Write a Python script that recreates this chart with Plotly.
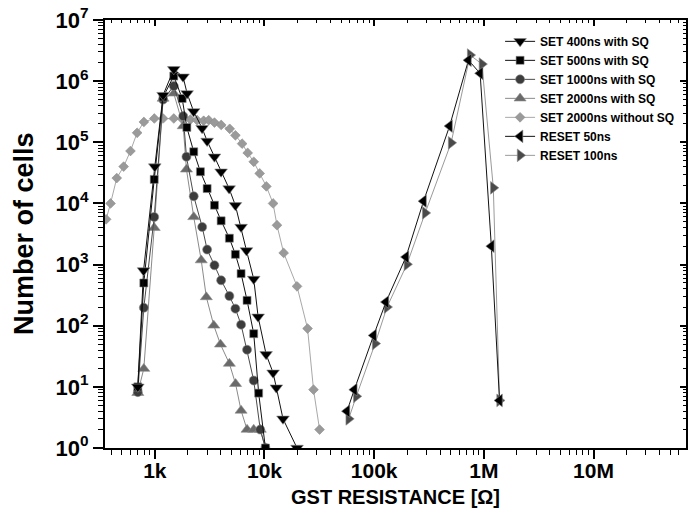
import plotly.graph_objects as go

# ---------------- data ----------------
set400_r = [700, 790, 1000, 1190, 1490, 1810, 1970, 2260, 2700, 3000, 3500, 4020, 4760, 5430, 6120, 6850, 7980, 8750, 10350, 11980, 12830, 14750, 19800]
set400_n = [10, 800, 4.0e4, 5.9e5, 1.56e6, 1.18e6, 6.3e5, 3.2e5, 1.7e5, 1.05e5, 5.8e4, 3.3e4, 1.75e4, 9.3e3, 4.1e3, 1.7e3, 580, 140, 34, 17, 9.7, 3, 1]

set500_r = [700, 794, 988, 1190, 1490, 1777, 1960, 2265, 2606, 3000, 3500, 4025, 4787, 5430, 6120, 6935, 7980, 8850, 10200]
set500_n = [10, 500, 2.47e4, 5.5e5, 1.21e6, 5.2e5, 1.75e5, 7.0e4, 3.3e4, 1.75e4, 9.35e3, 5.2e3, 2.7e3, 1.47e3, 711, 260, 74, 7.9, 1]

set1000_r = [700, 794, 988, 1190, 1490, 1816, 1944, 2265, 2705, 3000, 3500, 4025, 4787, 5430, 6120, 6935, 7980, 9150, 10200]
set1000_n = [8.2, 197, 6.0e3, 5.0e5, 8.3e5, 2.68e5, 5.8e4, 1.31e4, 4.12e3, 1.76e3, 973, 553, 306, 190, 104, 40.5, 12.7, 2, 1]

set2000_r = [700, 794, 988, 1190, 1490, 1816, 1944, 2265, 2650, 2950, 3450, 3970, 4787, 5450, 6120, 6935, 7980, 9150, 10200]
set2000_n = [8, 19.8, 4.0e3, 5.2e5, 6.3e5, 1.84e5, 3.6e4, 6.0e3, 1.18e3, 294, 101, 49.5, 24, 11.2, 4.1, 2, 2, 2, 1]

nosq_r = [360, 395, 450, 520, 600, 690, 795, 990, 1190, 1490, 1780, 2110, 2430, 2790, 3100, 3500, 4030, 4820, 5430, 6250, 7030, 7980, 9040, 10400, 11980, 13000, 14960, 19800, 24700, 28000, 31800]
nosq_n = [5.5e3, 1.0e4, 2.6e4, 4.0e4, 7.2e4, 1.43e5, 2.15e5, 2.45e5, 2.45e5, 2.45e5, 2.4e5, 2.35e5, 2.3e5, 2.25e5, 2.3e5, 2.1e5, 1.92e5, 1.66e5, 1.3e5, 9.5e4, 6.7e4, 4.8e4, 3.1e4, 1.9e4, 1.0e4, 4.4e3, 1.55e3, 440, 90, 9, 2]

reset50_r = [56500, 65900, 98900, 128000, 195000, 282000, 487000, 724000, 925000, 1.17e6, 1.39e6]
reset50_n = [4, 9, 69.5, 244, 1330, 1.09e4, 1.84e5, 2.2e6, 1.34e6, 2.0e3, 6]

reset100_r = [58600, 68700, 102000, 131000, 199000, 292000, 503000, 750000, 960000, 1.22e6, 1.39e6]
reset100_n = [3, 7, 51, 202, 1010, 7.0e3, 9.8e4, 2.67e6, 1.9e6, 1.8e4, 6]

x_tick_vals = [1e3, 1e4, 1e5, 1e6, 1e7]
x_tick_text = ["1k", "10k", "100k", "1M", "10M"]
y_tick_vals = [1, 10, 100, 1e3, 1e4, 1e5, 1e6, 1e7]
y_tick_text = ["10<sup>0</sup>", "10<sup>1</sup>", "10<sup>2</sup>", "10<sup>3</sup>",
               "10<sup>4</sup>", "10<sup>5</sup>", "10<sup>6</sup>", "10<sup>7</sup>"]

# ---------------- figure ----------------
FONT = "Arial, Liberation Sans, sans-serif"
X_RANGE = [2.546, 7.843]
Y_RANGE = [0, 7]

x_minor = [m * 10 ** e for e in range(2, 8) for m in range(2, 10)]
y_minor = [m * 10 ** e for e in range(0, 7) for m in range(2, 10)]

fig = go.Figure()

series = [
    # name, x, y, symbol, size, marker colour, line colour, legendrank
    ("SET 2000ns without SQ", nosq_r, nosq_n, "diamond", 7.5, "#9a9a9a", "#a8a8a8", 5),
    ("SET 2000ns with SQ", set2000_r, set2000_n, "triangle-up", 10.5, "#6a6a6a", "#8a8a8a", 4),
    ("SET 1000ns with SQ", set1000_r, set1000_n, "circle", 9, "#3c3c3c", "#4a4a4a", 3),
    ("SET 500ns with SQ", set500_r, set500_n, "square", 8, "#000000", "#111111", 2),
    ("SET 400ns with SQ", set400_r, set400_n, "triangle-down", 11, "#000000", "#111111", 1),
    ("RESET 100ns", reset100_r, reset100_n, "triangle-right", 11, "#4a4a4a", "#9a9a9a", 7),
    ("RESET 50ns", reset50_r, reset50_n, "triangle-left", 11, "#000000", "#111111", 6),
]

for name, xs, ys, sym, size, mcol, lcol, rank in series:
    fig.add_trace(go.Scatter(
        x=xs, y=ys, name=name, mode="lines+markers", legendrank=rank,
        marker=dict(symbol=sym, size=size, color=mcol, line=dict(width=0.6, color="#8c8c8c")),
        line=dict(color=lcol, width=1),
    ))

# invisible trace to activate the mirrored (top/right) axes
fig.add_trace(go.Scatter(x=[set400_r[0]], y=[set400_n[0]], xaxis="x2", yaxis="y2",
                         mode="markers", marker=dict(opacity=0), showlegend=False,
                         hoverinfo="skip"))

axis_common = dict(type="log", showgrid=False, zeroline=False, showline=True,
                   linecolor="black", linewidth=2, tickcolor="black", tickwidth=1.5,
                   automargin=False, ticklabeloverflow="allow")

# page body adds an 8px margin, so the figure is 681x505 inside the 697x521 window
fig.update_layout(
    template="none",
    width=681, height=505,
    margin=dict(l=97, r=3, t=12, b=65, pad=0, autoexpand=False),
    paper_bgcolor="white", plot_bgcolor="white",
    font=dict(family=FONT, color="black"),
    showlegend=True,
    legend=dict(x=0.68, y=0.984, xanchor="left", yanchor="top",
                bgcolor="rgba(0,0,0,0)", borderwidth=0, traceorder="normal",
                font=dict(family=FONT, size=12, color="black", weight="bold"),
                itemwidth=30, tracegroupgap=0),
    xaxis=dict(axis_common, range=X_RANGE, ticks="outside", ticklen=9,
               tickmode="array", tickvals=x_tick_vals, ticktext=x_tick_text,
               tickfont=dict(family=FONT, size=21, weight="bold"),
               ticklabelstandoff=-6,
               minor=dict(ticks="outside", ticklen=5, tickwidth=1, tickcolor="black",
                          tickmode="array", tickvals=x_minor, showgrid=False)),
    yaxis=dict(axis_common, range=Y_RANGE, ticks="outside", ticklen=10,
               tickmode="array", tickvals=y_tick_vals, ticktext=y_tick_text,
               tickfont=dict(family=FONT, size=22, weight="bold"),
               minor=dict(ticks="outside", ticklen=5, tickwidth=1, tickcolor="black",
                          tickmode="array", tickvals=y_minor, showgrid=False)),
    xaxis2=dict(axis_common, range=X_RANGE, overlaying="x", side="top", anchor="y",
                ticks="inside", ticklen=6, tickmode="array", tickvals=x_tick_vals,
                showticklabels=False,
                minor=dict(ticks="inside", ticklen=3, tickwidth=1, tickcolor="black",
                           tickmode="array", tickvals=x_minor, showgrid=False)),
    yaxis2=dict(axis_common, range=Y_RANGE, overlaying="y", side="right", anchor="x",
                ticks="inside", ticklen=6, tickmode="array", tickvals=y_tick_vals,
                showticklabels=False,
                minor=dict(ticks="inside", ticklen=3, tickwidth=1, tickcolor="black",
                           tickmode="array", tickvals=y_minor, showgrid=False)),
    annotations=[
        dict(text="<b>Number of cells</b>", xref="paper", yref="paper",
             x=(24 - 105) / 581.0, y=0.5, xanchor="center", yanchor="middle",
             textangle=-90, showarrow=False, font=dict(family=FONT, size=27, color="black")),
        dict(text="<b>GST RESISTANCE [Ω]</b>", xref="paper", yref="paper",
             x=0.5, y=(448 - 497) / 428.0, xanchor="center", yanchor="middle",
             showarrow=False, font=dict(family=FONT, size=20, color="black")),
    ],
)

fig.write_html("out.html")
